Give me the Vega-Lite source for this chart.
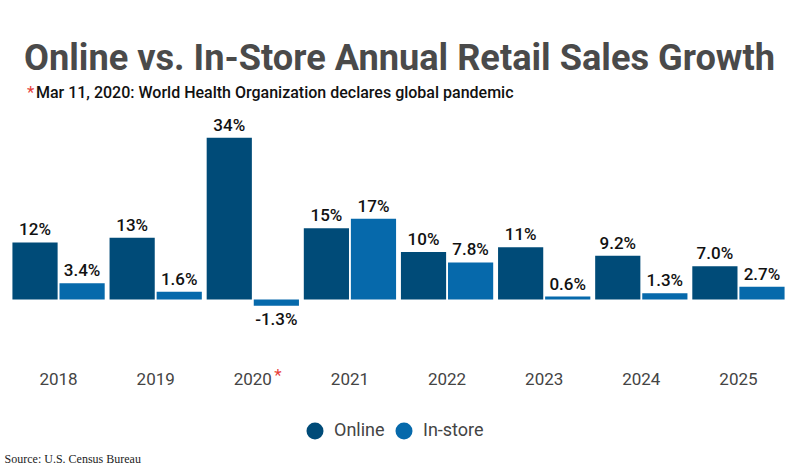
{
  "$schema": "https://vega.github.io/schema/vega-lite/v6.json",
  "width": 777,
  "height": 231,
  "autosize": {"type": "none"},
  "padding": {"left": 10, "top": 116, "right": 13, "bottom": 126},
  "background": "white",
  "title": {
    "text": "Online vs. In-Store Annual Retail Sales Growth",
    "subtitle": "\u200b\u00a0\u00a0\u00a0Mar 11, 2020: World Health Organization declares global pandemic",
    "anchor": "start",
    "frame": "group",
    "dx": 14,
    "offset": -17,
    "font": "Roboto",
    "fontSize": 36.2,
    "fontWeight": "bold",
    "color": "#4a4a4a",
    "subtitleFont": "Roboto",
    "subtitleFontSize": 16,
    "subtitleFontWeight": 500,
    "subtitleColor": "#111111",
    "subtitlePadding": 8
  },
  "config": {
    "view": {"stroke": null},
    "axis": {"grid": false},
    "font": "Roboto"
  },
  "layer": [
    {
      "data": {"name": "growth"},
      "mark": {"type": "bar"},
      "encoding": {
        "x": {
          "field": "year", "type": "nominal",
          "scale": {"paddingInner": 0.05, "paddingOuter": 0.025},
          "axis": {
            "title": null, "domain": false, "ticks": false, "labelAngle": 0,
            "labelFont": "Roboto", "labelFontSize": 17, "labelColor": "#444444",
            "labelPadding": 24
          }
        },
        "xOffset": {"field": "channel", "type": "nominal", "sort": ["Online", "In-store"], "scale": {"paddingInner": 0.04}},
        "y": {"field": "growth", "type": "quantitative", "scale": {"domain": [-10, 38.6], "nice": false, "zero": true}, "axis": null},
        "color": {
          "field": "channel", "type": "nominal", "sort": ["Online", "In-store"],
          "scale": {"domain": ["Online", "In-store"], "range": ["#004b78", "#0669ab"]},
          "legend": {
            "title": null, "orient": "none", "legendX": 296, "legendY": 306,
            "direction": "horizontal",
            "symbolType": "circle", "symbolSize": 289, "symbolStrokeWidth": 0,
            "labelFont": "Roboto", "labelFontSize": 18, "labelColor": "#444444",
            "labelOffset": 10, "columnPadding": 10
          }
        }
      }
    },
    {
      "data": {"name": "growth"},
      "transform": [
        {"filter": "datum.growth >= 0"},
        {"calculate": "format(datum.growth, datum.growth >= 10 ? '.0f' : '.1f') + '%'", "as": "label"}
      ],
      "mark": {"type": "text", "baseline": "bottom", "dy": -3, "font": "Roboto", "fontSize": 17, "fontWeight": 500, "color": "#111111"},
      "encoding": {
        "x": {"field": "year", "type": "nominal"},
        "xOffset": {"field": "channel", "type": "nominal", "sort": ["Online", "In-store"]},
        "y": {"field": "growth", "type": "quantitative"},
        "text": {"field": "label"}
      }
    },
    {
      "data": {"name": "growth"},
      "transform": [
        {"filter": "datum.growth < 0"},
        {"calculate": "'-' + format(abs(datum.growth), abs(datum.growth) >= 10 ? '.0f' : '.1f') + '%'", "as": "label"}
      ],
      "mark": {"type": "text", "baseline": "top", "dy": 6, "font": "Roboto", "fontSize": 17, "fontWeight": 500, "color": "#111111"},
      "encoding": {
        "x": {"field": "year", "type": "nominal"},
        "xOffset": {"field": "channel", "type": "nominal", "sort": ["Online", "In-store"]},
        "y": {"field": "growth", "type": "quantitative"},
        "text": {"field": "label"}
      }
    },
    {
      "data": {"values": [{"note": "*"}]},
      "mark": {"type": "text", "baseline": "middle", "align": "center", "dx": -28, "font": "Roboto", "fontSize": 17, "color": "#e8403a"},
      "encoding": {
        "x": {"datum": "2018", "type": "nominal"},
        "y": {"datum": 43.4, "type": "quantitative"},
        "text": {"field": "note"}
      }
    },
    {
      "data": {"values": [{"note": "*"}]},
      "mark": {"type": "text", "baseline": "middle", "align": "center", "dx": 25, "font": "Roboto", "fontSize": 17, "color": "#e8403a"},
      "encoding": {
        "x": {"datum": "2020", "type": "nominal"},
        "y": {"datum": -16, "type": "quantitative"},
        "text": {"field": "note"}
      }
    },
    {
      "data": {"values": [{"source": "Source: U.S. Census Bureau"}]},
      "mark": {"type": "text", "baseline": "alphabetic", "align": "left", "dx": -54, "font": "Liberation Serif", "fontSize": 12, "color": "#222222"},
      "encoding": {
        "x": {"datum": "2018", "type": "nominal"},
        "y": {"datum": -34.5, "type": "quantitative"},
        "text": {"field": "source"}
      }
    }
  ],
  "datasets": {
    "growth": [
      {"year": "2018", "channel": "Online", "growth": 12},
      {"year": "2018", "channel": "In-store", "growth": 3.4},
      {"year": "2019", "channel": "Online", "growth": 13},
      {"year": "2019", "channel": "In-store", "growth": 1.6},
      {"year": "2020", "channel": "Online", "growth": 34},
      {"year": "2020", "channel": "In-store", "growth": -1.3},
      {"year": "2021", "channel": "Online", "growth": 15},
      {"year": "2021", "channel": "In-store", "growth": 17},
      {"year": "2022", "channel": "Online", "growth": 10},
      {"year": "2022", "channel": "In-store", "growth": 7.8},
      {"year": "2023", "channel": "Online", "growth": 11},
      {"year": "2023", "channel": "In-store", "growth": 0.6},
      {"year": "2024", "channel": "Online", "growth": 9.2},
      {"year": "2024", "channel": "In-store", "growth": 1.3},
      {"year": "2025", "channel": "Online", "growth": 7.0},
      {"year": "2025", "channel": "In-store", "growth": 2.7}
    ]
  }
}
